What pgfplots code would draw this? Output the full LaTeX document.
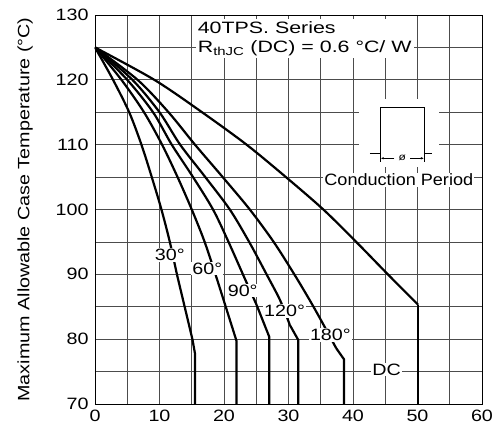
\documentclass[border=0pt]{standalone}
\usepackage{fontspec}
\setmainfont{Liberation Sans}[FakeStretch=1.2]
\usepackage{pgfplots}
\pgfplotsset{compat=1.18}
\usetikzlibrary{calc,arrows.meta}

\newcommand{\lblfont}{\fontsize{16.5}{19.5}\selectfont}

\begin{document}
\begin{tikzpicture}
\begin{axis}[
  scale only axis, width=387bp, height=389bp,
  xmin=0, xmax=60, ymin=70, ymax=130,
  xtick distance=10, ytick distance=10,
  minor x tick num=1, minor y tick num=1,
  grid=both,
  major grid style={line width=0.8bp, black!70},
  minor grid style={line width=0.8bp, black!70},
  major tick length=0pt, minor tick length=0pt,
  axis line style={line width=0.9bp},
  /pgf/number format/assume math mode=true,
  ticklabel style={font=\lblfont},
  xticklabel style={yshift=-3bp},
  yticklabel style={xshift=-3bp},
  ylabel={Maximum Allowable Case Temperature (°C)},
  ylabel style={font=\lblfont},
  ylabel shift=16bp,
  every axis plot/.style={line width=2.2bp, black, solid, no marks},
]
% 30 deg
\addplot[smooth] coordinates {(0,125) (2.8,120) (5.3,115) (7.2,110) (8.8,105) (10.3,100) (11.6,95) (12.7,90)};
\addplot[sharp plot] coordinates {(12.7,90) (15.1,80) (15.5,77.8) (15.5,70)};
% 60 deg
\addplot[smooth] coordinates {(0,125) (4.1,120) (7.6,115) (10.4,110) (12.8,105) (15.0,100) (17.0,95) (19.0,89)};
\addplot[sharp plot] coordinates {(19.0,89) (21.95,79.7) (21.95,70)};
% 90 deg
\addplot[smooth] coordinates {(0,125) (5.0,120) (9.0,115) (11.9,110) (15.2,105) (18.3,100) (20.7,95) (23.2,89.4) (25.05,85.3)};
\addplot[sharp plot] coordinates {(25.05,85.3) (27.0,80.4) (27.0,70)};
% 120 deg
\addplot[smooth] coordinates {(0,125) (5.8,120) (10.0,115) (13.2,110) (17.1,105) (20.9,100) (23.9,95) (26.6,90) (28.7,86) (30.2,82.2)};
\addplot[sharp plot] coordinates {(30.2,82.2) (31.5,79.9) (31.5,70)};
% 180 deg
\addplot[smooth] coordinates {(0,125) (6.6,120) (11.4,115) (15.5,110) (19.8,105) (24.0,100) (27.7,95) (30.9,90) (33.3,86) (35.0,83) (37.4,78.6)};
\addplot[sharp plot] coordinates {(37.4,78.6) (38.6,76.9) (38.6,70)};
% DC
\addplot[smooth] coordinates {(0,125) (9.2,120) (16.6,115) (23.5,110) (29.6,105) (35.4,100) (40.5,95) (45.4,90) (50.1,85.3)};
\addplot[sharp plot] coordinates {(50.1,85.3) (50.1,70)};

% curve labels
\node[fill=white, inner sep=1bp, font=\lblfont] at (axis cs:11.6,93) {30°};
\node[fill=white, inner sep=1bp, font=\lblfont] at (axis cs:17.4,90.9) {60°};
\node[fill=white, inner sep=1bp, font=\lblfont] at (axis cs:22.9,87.5) {90°};
\node[fill=white, inner sep=1bp, font=\lblfont] at (axis cs:29.4,84.3) {120°};
\node[fill=white, inner sep=1bp, font=\lblfont] at (axis cs:36.5,80.6) {180°};
\node[fill=white, inner sep=1bp, font=\lblfont] at (axis cs:45.2,75.3) {DC};

% title block
\node[anchor=north west, fill=white, align=left, inner sep=2bp, font=\lblfont\addfontfeatures{FakeStretch=1.3}]
  at (axis cs:15.6,129.4) {40TPS. Series\\R\textsubscript{thJC} (DC) = 0.6 °C/ W};

% conduction period sketch
\fill[white] (axis cs:41,117) rectangle (axis cs:53.4,106.5);
\draw[line width=0.8bp] (axis cs:42.6,108.7) -- (axis cs:44.3,108.7);
\draw[line width=0.8bp] (axis cs:51.0,108.7) -- (axis cs:52.3,108.7);
\draw[line width=0.8bp] (axis cs:44.3,107.4) -- (axis cs:44.3,115.8) -- (axis cs:51.0,115.8) -- (axis cs:51.0,107.4);
\draw[line width=0.6bp, -{Latex[length=3bp,width=2.5bp]}] (axis cs:46.4,107.9) -- (axis cs:44.3,107.9);
\draw[line width=0.6bp, -{Latex[length=3bp,width=2.5bp]}] (axis cs:48.9,107.9) -- (axis cs:51.0,107.9);
\node[font=\fontsize{10}{10}\selectfont, inner sep=0pt] at (axis cs:47.65,107.9) {ø};
\node[fill=white, inner sep=1bp, font=\lblfont\addfontfeatures{FakeStretch=1.1}] at (axis cs:47.1,104.6) {Conduction Period};
\end{axis}
\pgfresetboundingbox
\path[use as bounding box] ($(current axis.south west)+(-95bp,-32bp)$) rectangle ($(current axis.north east)+(14bp,15bp)$);
\end{tikzpicture}
\end{document}
